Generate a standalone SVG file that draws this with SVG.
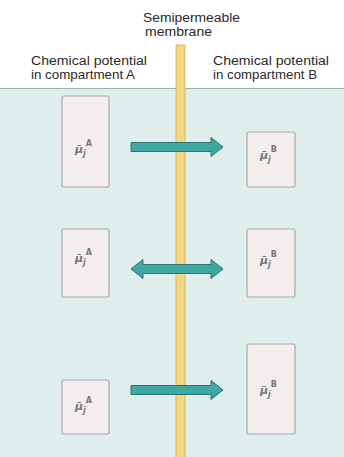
<svg xmlns="http://www.w3.org/2000/svg" xmlns:xlink="http://www.w3.org/1999/xlink" width="344" height="457" viewBox="0 0 344 457">
<style>
.lbl{font-family:"Liberation Sans",Arial,sans-serif;font-size:12px;fill:#2a2a2a}
.box{fill:#f3eded;stroke:#a9a9a9;stroke-width:1.2}
.mu{font-family:"DejaVu Sans","Liberation Sans",sans-serif;font-size:11px;fill:#777;font-style:italic;font-weight:bold}
.sup{font-style:normal;font-weight:bold;font-size:8px}
.sub{font-size:8px}
.arr{fill:#3fa8a3;stroke:#2b7571;stroke-width:1}
</style>
<defs>
<path id="ra" d="M131,-4.5 H211 V-9.5 L223,0 L211,9.5 V4.5 H131 Z"/>
<path id="da" d="M143,-4.5 H211 V-9.5 L223,0 L211,9.5 V4.5 H143 V9.5 L131,0 L143,-9.5 Z"/>
</defs>
<rect x="0" y="0" width="344" height="457" fill="#ffffff"/>
<g id="background">
<rect x="0" y="88.5" width="344" height="369" fill="#dfeded"/>
<line x1="0" y1="88.5" x2="344" y2="88.5" stroke="#9fb1af" stroke-width="1"/>
</g>
<g id="labels">
<text class="lbl" x="143" y="22" textLength="97" lengthAdjust="spacingAndGlyphs">Semipermeable</text>
<text class="lbl" x="145" y="36" textLength="67" lengthAdjust="spacingAndGlyphs">membrane</text>
<text class="lbl" x="31" y="65" textLength="116" lengthAdjust="spacingAndGlyphs">Chemical potential</text>
<text class="lbl" x="31" y="79" textLength="104" lengthAdjust="spacingAndGlyphs">in compartment A</text>
<text class="lbl" x="213" y="65" textLength="116" lengthAdjust="spacingAndGlyphs">Chemical potential</text>
<text class="lbl" x="213" y="79" textLength="104" lengthAdjust="spacingAndGlyphs">in compartment B</text>
</g>
<g id="membrane">
<rect x="176" y="45" width="9" height="420" fill="#f5d680" stroke="#cdb05e" stroke-width="0.8"/>
</g>
<g id="nodeA1"><rect class="box" x="62" y="96" width="47" height="91" rx="2"/><text class="mu" x="75" y="153">μ̄<tspan class="sub" dy="3">j</tspan><tspan class="sup" dy="-10">A</tspan></text></g>
<g id="nodeB1"><rect class="box" x="247" y="132" width="48" height="55" rx="2"/><text class="mu" x="260" y="159">μ̄<tspan class="sub" dy="3">j</tspan><tspan class="sup" dy="-10">B</tspan></text></g>
<g id="nodeA2"><rect class="box" x="62" y="229" width="47" height="68" rx="2"/><text class="mu" x="75" y="262">μ̄<tspan class="sub" dy="3">j</tspan><tspan class="sup" dy="-10">A</tspan></text></g>
<g id="nodeB2"><rect class="box" x="247" y="229" width="48" height="68" rx="2"/><text class="mu" x="260" y="264">μ̄<tspan class="sub" dy="3">j</tspan><tspan class="sup" dy="-10">B</tspan></text></g>
<g id="nodeA3"><rect class="box" x="62" y="380" width="47" height="54" rx="2"/><text class="mu" x="75" y="410">μ̄<tspan class="sub" dy="3">j</tspan><tspan class="sup" dy="-10">A</tspan></text></g>
<g id="nodeB3"><rect class="box" x="247" y="344" width="48" height="90" rx="2"/><text class="mu" x="260" y="394">μ̄<tspan class="sub" dy="3">j</tspan><tspan class="sup" dy="-10">B</tspan></text></g>
<g id="connectors">
<use xlink:href="#ra" class="arr" transform="translate(0,147)"/>
<use xlink:href="#da" class="arr" transform="translate(0,269)"/>
<use xlink:href="#ra" class="arr" transform="translate(0,390)"/>
</g>
</svg>
